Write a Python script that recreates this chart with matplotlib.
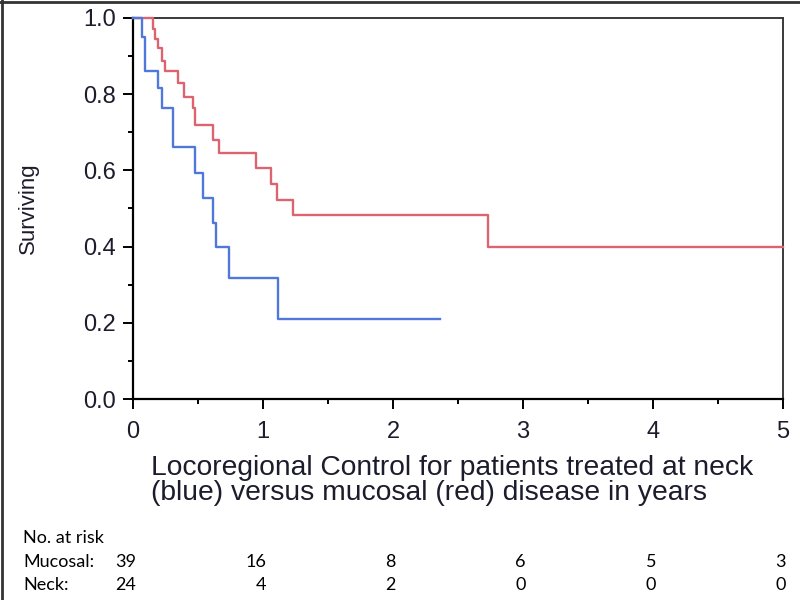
import matplotlib.pyplot as plt
import matplotlib.transforms as mtransforms
from matplotlib.lines import Line2D
from matplotlib.ticker import MultipleLocator

# Kaplan-Meier steps (years, surviving fraction)
mucosal_t = [0, 0.155, 0.173, 0.192, 0.221, 0.246, 0.346, 0.392, 0.462, 0.477,
             0.615, 0.662, 0.946, 1.062, 1.105, 1.228, 2.731, 5.0]
mucosal_s = [1.0, 0.97, 0.945, 0.922, 0.886, 0.860, 0.830, 0.793, 0.764, 0.720,
             0.680, 0.646, 0.607, 0.565, 0.523, 0.483, 0.399, 0.399]

neck_t = [0, 0.069, 0.096, 0.196, 0.223, 0.304, 0.477, 0.536, 0.615, 0.638,
          0.738, 1.119, 2.36]
neck_s = [1.0, 0.951, 0.862, 0.816, 0.764, 0.661, 0.594, 0.528, 0.462, 0.398,
          0.318, 0.210, 0.210]

# numbers at risk table
risk_years = [0, 1, 2, 3, 4, 5]
mucosal_risk = [39, 16, 8, 6, 5, 3]
neck_risk = [24, 4, 2, 0, 0, 0]

red = "#dc6470"
blue = "#5078da"
txt = "#1c1c2c"

plt.rcParams['font.family'] = ['Liberation Sans', 'DejaVu Sans']

fig = plt.figure(figsize=(8, 6), dpi=100)
ax = fig.add_axes([133 / 800, 201 / 600, 650 / 800, 381 / 600])

ax.step(mucosal_t, mucosal_s, where="post", color=red, linewidth=1.7,
        clip_on=False, zorder=4)
ax.step(neck_t, neck_s, where="post", color=blue, linewidth=1.7,
        clip_on=False, zorder=5)

ax.set_xlim(0, 5)
ax.set_ylim(0, 1.0)
ax.xaxis.set_major_locator(MultipleLocator(1))
ax.xaxis.set_minor_locator(MultipleLocator(0.5))
ax.yaxis.set_major_locator(MultipleLocator(0.2))
ax.yaxis.set_minor_locator(MultipleLocator(0.1))
ax.yaxis.set_major_formatter(plt.FuncFormatter(lambda v, p: "%.1f" % v))

ax.tick_params(which="major", length=7.5, width=1.4, color="black")
ax.tick_params(which="minor", length=3.5, width=1.4, color="black")
ax.tick_params(axis="x", which="major", labelsize=17, labelcolor=txt, pad=8)
ax.tick_params(axis="y", which="major", labelsize=17, labelcolor=txt, pad=5)

for side in ["left", "bottom"]:
    ax.spines[side].set_linewidth(1.6)
    ax.spines[side].set_color("black")
for side in ["top", "right"]:
    ax.spines[side].set_linewidth(1.4)
    ax.spines[side].set_color("#3a3a3a")

ax.set_ylabel("Surviving", fontsize=16, color=txt)
ax.yaxis.set_label_coords(-0.145, 0.5)
ax.set_xlabel("Locoregional Control for patients treated at neck\n"
              "(blue) versus mucosal (red) disease in years",
              fontsize=20.3, color=txt, multialignment="left",
              linespacing=0.92)
ax.xaxis.set_label_coords(0.491, -0.148)
ax.xaxis.label.set_va("top")

# number at risk table below the chart
tfont = dict(family=["Lato", "DejaVu Sans"], fontsize=13, color="black")
fig.text(23 / 800, 1 - 543 / 600, "No. at risk", ha="left", va="baseline", **tfont)
fig.text(23 / 800, 1 - 567 / 600, "Mucosal:", ha="left", va="baseline", **tfont)
fig.text(23 / 800, 1 - 590 / 600, "Neck:", ha="left", va="baseline", **tfont)

trans = mtransforms.blended_transform_factory(ax.transData, fig.transFigure)
trans = trans + mtransforms.ScaledTranslation(3 / 100, 0, fig.dpi_scale_trans)
for yr, m, n in zip(risk_years, mucosal_risk, neck_risk):
    fig.text(yr, 1 - 567 / 600, str(m), ha="right", va="baseline",
             transform=trans, **tfont)
    fig.text(yr, 1 - 590 / 600, str(n), ha="right", va="baseline",
             transform=trans, **tfont)

# outer frame edges (top and left) of the original screenshot
fig.add_artist(Line2D([0, 1], [0.997, 0.997], color="#333333", linewidth=2))
fig.add_artist(Line2D([0.003, 0.003], [0, 1], color="#333333", linewidth=2))

fig.savefig("out.png", dpi=100)
